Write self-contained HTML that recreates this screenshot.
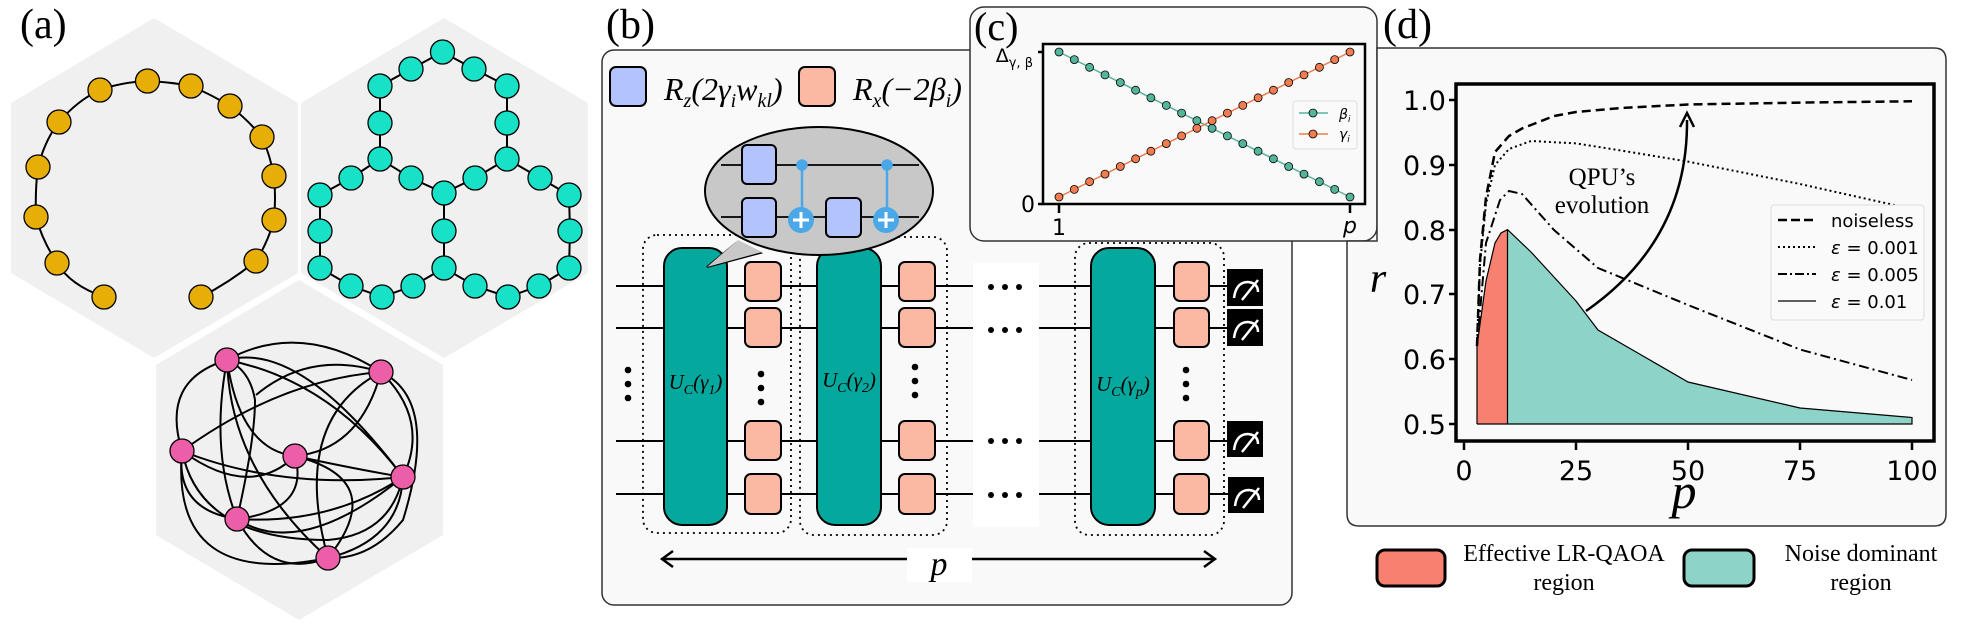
<!DOCTYPE html>
<html><head><meta charset="utf-8"><style>
html,body{margin:0;padding:0;background:#fff;}
svg{display:block;}
.ser{font-family:"Liberation Serif",serif;}
.san{font-family:"DejaVu Sans","Liberation Sans",sans-serif;}
</style></head><body>
<svg width="1961" height="629" viewBox="0 0 1961 629" xmlns="http://www.w3.org/2000/svg">
<!-- Panel (a) -->
<text x="20" y="38" class="ser" font-size="42">(a)</text>
<g fill="#f0f0f0">
<polygon points="154,18 298,103 298,273 154,358 11,273 11,103"/>
<polygon points="444,18 588,103 588,273 444,358 301,273 301,103"/>
<polygon points="299,280 443,365 443,535 299,620 156,535 156,365"/>
</g>
<!-- yellow ring -->
<path d="M104,297 Q70,285 57,263 Q42,240 36,217 Q35,190 38,167 Q45,140 59,122 Q78,100 100,90 Q122,82 147.5,81 Q170,82 191,86 Q212,95 230,106 Q248,120 262,137 Q270,155 274,176 Q276,198 274,220 Q268,242 256,261 Q230,282 201,297" fill="none" stroke="#000" stroke-width="2"/>
<g fill="#e8ae08" stroke="#000" stroke-width="1.3">
<circle cx="147.5" cy="81" r="12"/><circle cx="100" cy="90" r="12"/><circle cx="59" cy="122" r="12"/><circle cx="38" cy="167" r="12"/><circle cx="36" cy="217" r="12"/><circle cx="57" cy="263" r="12"/><circle cx="104" cy="297" r="12"/><circle cx="201" cy="297" r="12"/><circle cx="256" cy="261" r="12"/><circle cx="274" cy="220" r="12"/><circle cx="274" cy="176" r="12"/><circle cx="262" cy="137" r="12"/><circle cx="230" cy="106" r="12"/><circle cx="191" cy="86" r="12"/>
</g>
<!-- cyan heavy-hex -->
<g fill="none" stroke="#000" stroke-width="2">
<polyline points="442.5,52 411,69 380,86 380,123 380,159 411,178 444,193 475,178 507,159 507,123 507,86 474,69 442.5,52"/>
<polyline points="380,159 351,178 320,195 320,231 320,268 351,286 382,297 413,286 444,268 444,231 444,193"/>
<polyline points="444,268 475,286 508,297 539,286 569,268 570,231 569,195 540,178 507,159"/>
</g>
<g fill="#17e2c8" stroke="#000" stroke-width="1.3">
<circle cx="442.5" cy="52" r="12"/><circle cx="411" cy="69" r="12"/><circle cx="380" cy="86" r="12"/><circle cx="380" cy="123" r="12"/><circle cx="380" cy="159" r="12"/><circle cx="351" cy="178" r="12"/><circle cx="320" cy="195" r="12"/><circle cx="320" cy="231" r="12"/><circle cx="320" cy="268" r="12"/><circle cx="351" cy="286" r="12"/><circle cx="382" cy="297" r="12"/><circle cx="413" cy="286" r="12"/><circle cx="444" cy="268" r="12"/><circle cx="444" cy="231" r="12"/><circle cx="444" cy="193" r="12"/><circle cx="411" cy="178" r="12"/><circle cx="474" cy="69" r="12"/><circle cx="507" cy="86" r="12"/><circle cx="507" cy="123" r="12"/><circle cx="507" cy="159" r="12"/><circle cx="475" cy="178" r="12"/><circle cx="540" cy="178" r="12"/><circle cx="569" cy="195" r="12"/><circle cx="570" cy="231" r="12"/><circle cx="569" cy="268" r="12"/><circle cx="539" cy="286" r="12"/><circle cx="508" cy="297" r="12"/><circle cx="475" cy="286" r="12"/>
</g>
<!-- pink graph -->
<g fill="none" stroke="#000" stroke-width="2">
<path d="M227,360 Q300,320 381,372"/>
<path d="M227,360 Q300,340 403,477"/>
<path d="M227,360 Q330,380 403,477"/>
<path d="M227,360 Q160,380 182,451"/>
<path d="M227,360 Q210,450 237,519"/>
<path d="M227,360 Q230,470 328,558"/>
<path d="M227,360 Q240,450 295,456"/>
<path d="M381,372 Q280,380 182,451"/>
<path d="M381,372 Q360,450 295,456"/>
<path d="M381,372 Q430,420 403,477"/>
<path d="M381,372 Q290,420 328,558"/>
<path d="M381,372 Q440,400 403,520 Q370,560 328,558"/>
<path d="M182,451 Q250,500 295,456"/>
<path d="M182,451 Q280,490 403,477"/>
<path d="M182,451 Q175,510 237,519"/>
<path d="M182,451 Q170,590 328,558"/>
<path d="M237,519 Q310,510 295,456"/>
<path d="M237,519 Q330,525 403,477"/>
<path d="M237,519 Q300,560 403,477"/>
<path d="M237,519 Q270,580 328,558"/>
<path d="M256,395 Q310,350 381,372"/>
<path d="M295,456 Q360,470 403,477"/>
<path d="M295,456 Q390,480 328,558"/>
<path d="M403,477 Q400,540 328,558"/>
<path d="M182,451 Q200,540 328,540 Q390,535 403,477"/>
<path d="M237,519 Q255,440 255,400 Q250,370 227,360"/>
</g>
<g fill="#ec5fa8" stroke="#000" stroke-width="1.3">
<circle cx="227" cy="360" r="12"/><circle cx="381" cy="372" r="12"/><circle cx="182" cy="451" r="12"/><circle cx="295" cy="456" r="12"/><circle cx="403" cy="477" r="12"/><circle cx="237" cy="519" r="12"/><circle cx="328" cy="558" r="12"/>
</g>

<!-- Panel (b) -->
<text x="606" y="38" class="ser" font-size="42">(b)</text>
<rect x="602" y="50" width="690" height="555" rx="12" fill="#f9f9f9" stroke="#333" stroke-width="1.5"/>
<rect x="610" y="67" width="36" height="39" rx="6" fill="#b3c3fb" stroke="#000" stroke-width="2"/>
<text x="664" y="100" class="ser" font-size="32" font-style="italic">R<tspan font-size="20" dy="7">z</tspan><tspan dy="-7">(2γ</tspan><tspan font-size="20" dy="7">i</tspan><tspan dy="-7">w</tspan><tspan font-size="20" dy="7">kl</tspan><tspan dy="-7">)</tspan></text>
<rect x="799" y="67" width="36" height="39" rx="6" fill="#fbb9a4" stroke="#000" stroke-width="2"/>
<text x="853" y="100" class="ser" font-size="32" font-style="italic">R<tspan font-size="20" dy="7">x</tspan><tspan dy="-7">(−2β</tspan><tspan font-size="20" dy="7">i</tspan><tspan dy="-7">)</tspan></text>

<!-- dotted groups -->
<g fill="none" stroke="#000" stroke-width="1.8" stroke-dasharray="2,4">
<rect x="643" y="235" width="148" height="298" rx="14"/>
<rect x="800" y="237" width="147" height="298" rx="14"/>
<rect x="1075" y="243" width="149" height="292" rx="14"/>
</g>
<!-- wires -->
<g stroke="#000" stroke-width="2">
<line x1="616" y1="286" x2="973" y2="286"/><line x1="616" y1="328" x2="973" y2="328"/><line x1="616" y1="441" x2="973" y2="441"/><line x1="616" y1="494" x2="973" y2="494"/>
<line x1="1039" y1="286" x2="1228" y2="286"/><line x1="1039" y1="328" x2="1228" y2="328"/><line x1="1039" y1="441" x2="1228" y2="441"/><line x1="1039" y1="494" x2="1228" y2="494"/>
</g>
<rect x="973" y="263" width="66" height="264" fill="#fff"/>
<g fill="#000">
<circle cx="991" cy="287" r="3"/><circle cx="1005" cy="287" r="3"/><circle cx="1019" cy="287" r="3"/>
<circle cx="991" cy="330" r="3"/><circle cx="1005" cy="330" r="3"/><circle cx="1019" cy="330" r="3"/>
<circle cx="991" cy="441" r="3"/><circle cx="1005" cy="441" r="3"/><circle cx="1019" cy="441" r="3"/>
<circle cx="991" cy="495" r="3"/><circle cx="1005" cy="495" r="3"/><circle cx="1019" cy="495" r="3"/>
<circle cx="628" cy="370" r="3.3"/><circle cx="628" cy="384" r="3.3"/><circle cx="628" cy="398" r="3.3"/>
<circle cx="761" cy="374" r="3.3"/><circle cx="761" cy="388" r="3.3"/><circle cx="761" cy="402" r="3.3"/>
<circle cx="915" cy="367" r="3.3"/><circle cx="915" cy="381" r="3.3"/><circle cx="915" cy="395" r="3.3"/>
<circle cx="1186" cy="370" r="3.3"/><circle cx="1186" cy="384" r="3.3"/><circle cx="1186" cy="398" r="3.3"/>
</g>
<!-- U blocks -->
<g fill="#05a89d" stroke="#000" stroke-width="2">
<rect x="664" y="248" width="63" height="277" rx="18"/>
<rect x="817" y="248" width="64" height="277" rx="18"/>
<rect x="1091" y="248" width="64" height="277" rx="18"/>
</g>
<g class="ser" font-size="21" font-style="italic" fill="#000" text-anchor="middle">
<text x="695.5" y="389">U<tspan font-size="14" dy="5">C</tspan><tspan dy="-5">(γ</tspan><tspan font-size="14" dy="5">1</tspan><tspan dy="-5">)</tspan></text>
<text x="849" y="387">U<tspan font-size="14" dy="5">C</tspan><tspan dy="-5">(γ</tspan><tspan font-size="14" dy="5">2</tspan><tspan dy="-5">)</tspan></text>
<text x="1123" y="391">U<tspan font-size="14" dy="5">C</tspan><tspan dy="-5">(γ</tspan><tspan font-size="14" dy="5">p</tspan><tspan dy="-5">)</tspan></text>
</g>
<!-- orange boxes -->
<g fill="#fbb9a4" stroke="#000" stroke-width="2">
<rect x="745" y="262" width="36" height="39" rx="6"/><rect x="745" y="308" width="36" height="39" rx="6"/><rect x="745" y="421" width="36" height="39" rx="6"/><rect x="745" y="474" width="36" height="40" rx="6"/>
<rect x="899" y="262" width="36" height="39" rx="6"/><rect x="899" y="308" width="36" height="39" rx="6"/><rect x="899" y="421" width="36" height="39" rx="6"/><rect x="899" y="474" width="36" height="40" rx="6"/>
<rect x="1174" y="262" width="35" height="39" rx="6"/><rect x="1174" y="308" width="35" height="39" rx="6"/><rect x="1174" y="421" width="35" height="39" rx="6"/><rect x="1174" y="474" width="35" height="40" rx="6"/>
</g>
<!-- measurements -->
<g>
<rect x="1227" y="269" width="36" height="37" fill="#000"/><rect x="1227" y="309" width="36" height="37" fill="#000"/><rect x="1227" y="421" width="36" height="36" fill="#000"/><rect x="1228" y="477" width="36" height="36" fill="#000"/>
<g fill="none" stroke="#fff" stroke-width="2.5">
<path d="M1234,298 Q1236,282 1248,282 Q1258,283 1258,292"/><line x1="1242" y1="300" x2="1258" y2="280"/>
<path d="M1234,338 Q1236,322 1248,322 Q1258,323 1258,332"/><line x1="1242" y1="340" x2="1258" y2="320"/>
<path d="M1234,450 Q1236,434 1248,434 Q1258,435 1258,444"/><line x1="1242" y1="452" x2="1258" y2="432"/>
<path d="M1235,506 Q1237,490 1249,490 Q1259,491 1259,500"/><line x1="1243" y1="508" x2="1259" y2="488"/>
</g>
</g>
<!-- p arrow -->
<g stroke="#000" stroke-width="2.5" fill="none">
<line x1="663" y1="559" x2="1214" y2="559"/>
<polyline points="673,551 662,559 673,567"/><polyline points="1204,551 1215,559 1204,567"/>
</g>
<rect x="907" y="548" width="65" height="34" fill="#fff"/>
<text x="939" y="575" class="ser" font-size="34" font-style="italic" text-anchor="middle">p</text>
<!-- bubble -->
<path d="M736,243 L707,267 L760,253 Z" fill="#c8c8c8" stroke="#000" stroke-width="2"/>
<ellipse cx="819" cy="191" rx="114" ry="64" fill="#c8c8c8" stroke="#000" stroke-width="2"/>
<path d="M738,240 L707,267 L762,252" fill="#c8c8c8" stroke="none"/>
<g stroke="#000" stroke-width="1.8"><line x1="721" y1="165" x2="919" y2="165"/><line x1="721" y1="217" x2="919" y2="217"/></g>
<g fill="#b3c3fb" stroke="#000" stroke-width="2">
<rect x="742" y="145" width="34" height="39" rx="5"/><rect x="742" y="198" width="34" height="39" rx="5"/><rect x="826" y="198" width="35" height="39" rx="5"/>
</g>
<g stroke="#4aa8e8" stroke-width="2.5" fill="#4aa8e8">
<line x1="802" y1="165" x2="802" y2="210"/><circle cx="802" cy="165" r="4.5"/>
<line x1="887" y1="165" x2="887" y2="210"/><circle cx="887" cy="165" r="4.5"/>
<circle cx="801" cy="220" r="13" stroke="none"/><circle cx="886" cy="220" r="13" stroke="none"/>
</g>
<g stroke="#fff" stroke-width="3"><line x1="793" y1="220" x2="809" y2="220"/><line x1="801" y1="212" x2="801" y2="228"/><line x1="878" y1="220" x2="894" y2="220"/><line x1="886" y1="212" x2="886" y2="228"/></g>

<!-- Panel (c) -->
<rect x="970" y="7" width="407" height="234" rx="14" fill="#f9f9f9" stroke="#333" stroke-width="1.5"/>
<text x="974" y="40" class="ser" font-size="40">(c)</text>
<rect x="1043" y="44" width="322" height="160" fill="#f9f9f9" stroke="#000" stroke-width="2.5"/>
<g stroke="#000" stroke-width="2.5"><line x1="1038" y1="52" x2="1043" y2="52"/><line x1="1038" y1="204" x2="1043" y2="204"/><line x1="1059" y1="204" x2="1059" y2="213"/><line x1="1350" y1="204" x2="1350" y2="213"/></g>
<text x="1033" y="62" class="san" font-size="19" text-anchor="end">Δ<tspan font-size="13" dy="5">γ, β</tspan></text>
<text x="1035" y="212" class="san" font-size="22" text-anchor="end">0</text>
<text x="1059" y="235" class="san" font-size="22" text-anchor="middle">1</text>
<text x="1350" y="233" class="san" font-size="22" font-style="italic" text-anchor="middle">p</text>
<line x1="1059" y1="52" x2="1350" y2="197" stroke="#55b59a" stroke-width="1.5"/>
<line x1="1059" y1="197" x2="1350" y2="52" stroke="#f07c50" stroke-width="1.5"/>
<g fill="#55b59a" stroke="#000" stroke-width="0.8">
<circle cx="1059" cy="52" r="4"/><circle cx="1074.3" cy="59.6" r="4"/><circle cx="1089.6" cy="67.3" r="4"/><circle cx="1105" cy="74.9" r="4"/><circle cx="1120.3" cy="82.5" r="4"/><circle cx="1135.6" cy="90.2" r="4"/><circle cx="1150.9" cy="97.8" r="4"/><circle cx="1166.3" cy="105.4" r="4"/><circle cx="1181.6" cy="113.1" r="4"/><circle cx="1196.9" cy="120.7" r="4"/><circle cx="1212.1" cy="128.3" r="4"/><circle cx="1227.4" cy="135.9" r="4"/><circle cx="1242.8" cy="143.6" r="4"/><circle cx="1258.1" cy="151.2" r="4"/><circle cx="1273.4" cy="158.8" r="4"/><circle cx="1288.7" cy="166.5" r="4"/><circle cx="1304" cy="174.1" r="4"/><circle cx="1319.4" cy="181.7" r="4"/><circle cx="1334.7" cy="189.4" r="4"/><circle cx="1350" cy="197" r="4"/>
</g>
<g fill="#f07c50" stroke="#000" stroke-width="0.8">
<circle cx="1059" cy="197" r="4"/><circle cx="1074.3" cy="189.4" r="4"/><circle cx="1089.6" cy="181.7" r="4"/><circle cx="1105" cy="174.1" r="4"/><circle cx="1120.3" cy="166.5" r="4"/><circle cx="1135.6" cy="158.8" r="4"/><circle cx="1150.9" cy="151.2" r="4"/><circle cx="1166.3" cy="143.6" r="4"/><circle cx="1181.6" cy="135.9" r="4"/><circle cx="1196.9" cy="128.3" r="4"/><circle cx="1212.1" cy="120.7" r="4"/><circle cx="1227.4" cy="113.1" r="4"/><circle cx="1242.8" cy="105.4" r="4"/><circle cx="1258.1" cy="97.8" r="4"/><circle cx="1273.4" cy="90.2" r="4"/><circle cx="1288.7" cy="82.5" r="4"/><circle cx="1304" cy="74.9" r="4"/><circle cx="1319.4" cy="67.3" r="4"/><circle cx="1334.7" cy="59.6" r="4"/><circle cx="1350" cy="52" r="4"/>
</g>
<rect x="1293" y="101" width="64" height="48" rx="3" fill="#fafafa" stroke="#ddd"/>
<line x1="1299" y1="113" x2="1328" y2="113" stroke="#55b59a" stroke-width="1.5"/><circle cx="1313" cy="113" r="4" fill="#55b59a" stroke="#000" stroke-width="0.8"/>
<line x1="1299" y1="134" x2="1328" y2="134" stroke="#f07c50" stroke-width="1.5"/><circle cx="1313" cy="134" r="4" fill="#f07c50" stroke="#000" stroke-width="0.8"/>
<text x="1339" y="119" class="san" font-size="14" font-style="italic">β<tspan font-size="9" dy="3">i</tspan></text>
<text x="1339" y="139" class="san" font-size="14" font-style="italic">γ<tspan font-size="9" dy="3">i</tspan></text>

<!-- Panel (d) -->
<text x="1383" y="38" class="ser" font-size="42">(d)</text>
<path d="M1377,48 L1934,48 Q1946,48 1946,60 L1946,514 Q1946,526 1934,526 L1359,526 Q1347,526 1347,514 L1347,241 L1377,241 Z" fill="#f9f9f9" stroke="#333" stroke-width="1.5"/>
<rect x="1456" y="84" width="478" height="357" fill="#f9f9f9" stroke="#000" stroke-width="3.5"/>
<polygon points="1477,424 1477,346 1486,281 1495,243 1501,233 1507.5,229.6 1507.5,424" fill="#f88070"/>
<polygon points="1507.5,424 1507.5,229.6 1531,252 1576,301 1598,330 1643,356 1688,382 1800,408 1912,417.5 1912,424" fill="#8dd3c7"/>
<polyline points="1477,424 1477,346 1486,281 1495,243 1501,233 1507.5,229.6 1531,252 1576,301 1598,330 1643,356 1688,382 1800,408 1912,417.5 1912,424 1477,424" fill="none" stroke="#000" stroke-width="1.2"/>
<line x1="1507.5" y1="229.6" x2="1507.5" y2="424" stroke="#000" stroke-width="1.2"/>
<polyline points="1477,346 1480,260 1486,197 1495,152 1509,136 1522,128.5 1554,116 1576,112 1621,108 1688,104.5 1800,102.6 1912,101.3" fill="none" stroke="#000" stroke-width="2.5" stroke-dasharray="9,5"/>
<polyline points="1477,346 1480,265 1486,204 1495,165 1509,149 1531,141 1576,143.4 1621,150.5 1688,161.6 1800,184 1912,209" fill="none" stroke="#000" stroke-width="2" stroke-dasharray="2,3"/>
<polyline points="1477,346 1486,243 1500,200 1509,191 1522,194 1554,230 1598,268 1688,305 1800,349.5 1912,380" fill="none" stroke="#000" stroke-width="2" stroke-dasharray="10,4,2,4"/>
<g stroke="#000" stroke-width="2.5">
<line x1="1449" y1="100" x2="1456" y2="100"/><line x1="1449" y1="165" x2="1456" y2="165"/><line x1="1449" y1="230" x2="1456" y2="230"/><line x1="1449" y1="294" x2="1456" y2="294"/><line x1="1449" y1="359" x2="1456" y2="359"/><line x1="1449" y1="424" x2="1456" y2="424"/>
<line x1="1464" y1="441" x2="1464" y2="450"/><line x1="1576" y1="441" x2="1576" y2="450"/><line x1="1688" y1="441" x2="1688" y2="450"/><line x1="1800" y1="441" x2="1800" y2="450"/><line x1="1912" y1="441" x2="1912" y2="450"/>
</g>
<g class="san" font-size="27" text-anchor="end">
<text x="1446" y="110">1.0</text><text x="1446" y="175">0.9</text><text x="1446" y="240">0.8</text><text x="1446" y="304">0.7</text><text x="1446" y="369">0.6</text><text x="1446" y="434">0.5</text>
</g>
<g class="san" font-size="27" text-anchor="middle">
<text x="1464" y="480">0</text><text x="1576" y="480">25</text><text x="1688" y="480">50</text><text x="1800" y="480">75</text><text x="1912" y="480">100</text>
</g>
<text x="1378" y="292" class="ser" font-size="42" font-style="italic" text-anchor="middle">r</text>
<text x="1684" y="508" class="ser" font-size="50" font-style="italic" text-anchor="middle">p</text>
<path d="M1586,311 Q1688,240 1687,120" fill="none" stroke="#000" stroke-width="2.5"/>
<polyline points="1680,127 1687,113 1694,127" fill="none" stroke="#000" stroke-width="2.5"/>
<text x="1602" y="185" class="ser" font-size="25" text-anchor="middle">QPU’s</text>
<text x="1602" y="213" class="ser" font-size="25" text-anchor="middle">evolution</text>
<rect x="1771" y="205" width="153" height="115" rx="3" fill="#fafafa" stroke="#ddd"/>
<line x1="1778" y1="220" x2="1816" y2="220" stroke="#000" stroke-width="2.5" stroke-dasharray="9,4"/>
<line x1="1778" y1="247" x2="1816" y2="247" stroke="#000" stroke-width="2" stroke-dasharray="2,3"/>
<line x1="1778" y1="274" x2="1816" y2="274" stroke="#000" stroke-width="2" stroke-dasharray="9,3,2,3"/>
<line x1="1778" y1="301" x2="1816" y2="301" stroke="#000" stroke-width="1.2"/>
<g class="san" font-size="18">
<text x="1831" y="227">noiseless</text>
<text x="1831" y="254"><tspan font-style="italic">ε</tspan> = 0.001</text>
<text x="1831" y="281"><tspan font-style="italic">ε</tspan> = 0.005</text>
<text x="1831" y="308"><tspan font-style="italic">ε</tspan> = 0.01</text>
</g>
<!-- bottom legend -->
<rect x="1377" y="550" width="68" height="36" rx="8" fill="#f88070" stroke="#000" stroke-width="3"/>
<rect x="1684" y="550" width="70" height="36" rx="8" fill="#8dd3c7" stroke="#000" stroke-width="3"/>
<g class="ser" font-size="24" text-anchor="middle">
<text x="1564" y="561">Effective LR-QAOA</text><text x="1564" y="590">region</text>
<text x="1861" y="561">Noise dominant</text><text x="1861" y="590">region</text>
</g>
</svg>
</body></html>
